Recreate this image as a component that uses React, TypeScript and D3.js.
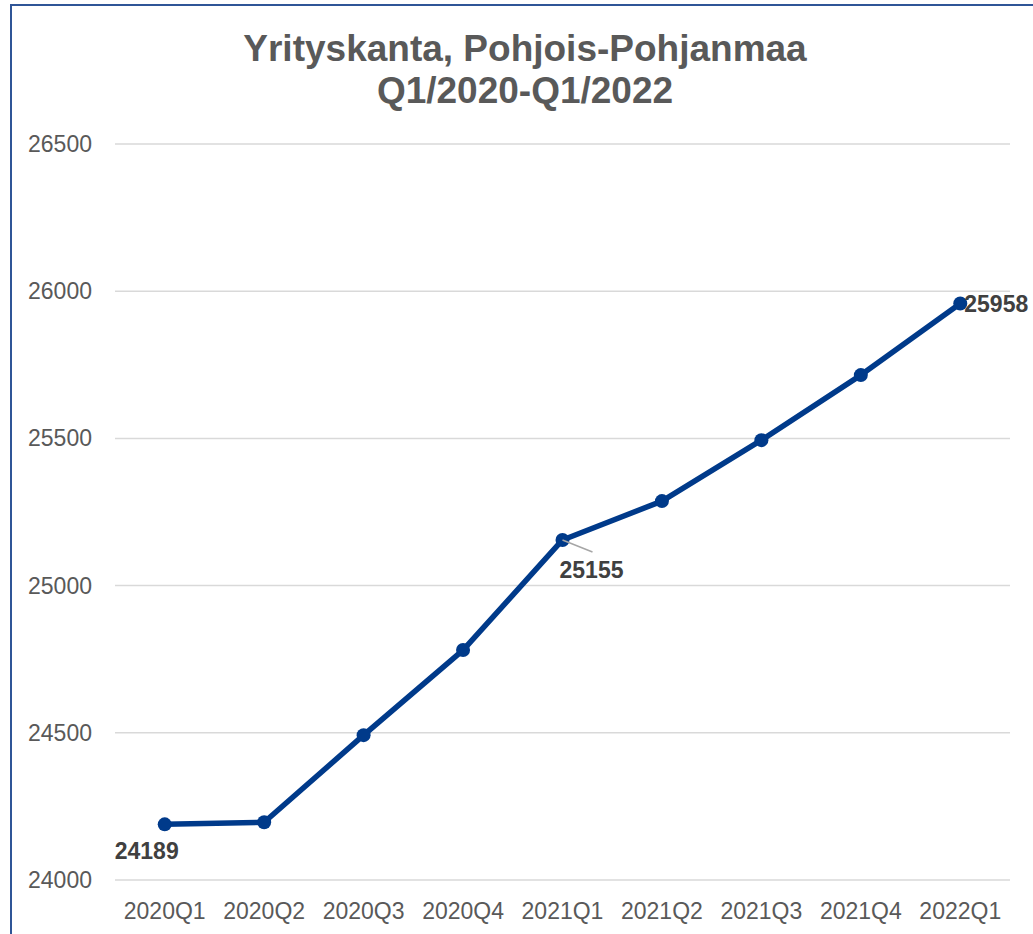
import React from "react";
import * as d3 from "d3";

const categories = ["2020Q1", "2020Q2", "2020Q3", "2020Q4", "2021Q1", "2021Q2", "2021Q3", "2021Q4", "2022Q1"];
const values = [24189, 24196, 24492, 24781, 25155, 25287, 25494, 25715, 25958];
const yTicks = [24000, 24500, 25000, 25500, 26000, 26500];
const titleLines = ["Yrityskanta, Pohjois-Pohjanmaa", "Q1/2020-Q1/2022"];
const labelled = [0, 4, 8];

const W = 1033, H = 934;
const plot = { left: 115, right: 1010, top: 144, bottom: 880 };

export default function App() {
  const x = d3.scaleBand<string>().domain(categories).range([plot.left, plot.right]);
  const y = d3.scaleLinear().domain([24000, 26500]).range([plot.bottom, plot.top]);
  const cx = (i: number) => (x(categories[i]) as number) + x.bandwidth() / 2;
  const line = d3.line<number>().x((_, i) => cx(i)).y((d) => y(d));
  const font = "'Liberation Sans', Arial, sans-serif";

  return (
    <svg width={W} height={H} style={{ position: "absolute", left: 0, top: 0, display: "block" }} fontFamily={font}>
      <rect x={0} y={0} width={W} height={H} fill="#fff" />
      <rect x={11} y={5} width={W + 20} height={H + 20} fill="none" stroke="#2F5597" strokeWidth={2} />
      {titleLines.map((t, i) => (
        <text key={t} x={525} y={61 + i * 42} textAnchor="middle" fontSize={37} fontWeight="bold" fill="#595959">{t}</text>
      ))}
      {yTicks.map((t) => (
        <g key={t}>
          <line x1={plot.left} x2={plot.right} y1={y(t)} y2={y(t)} stroke="#d9d9d9" strokeWidth={1.5} />
          <text x={92} y={y(t) + 8} textAnchor="end" fontSize={23} fill="#595959">{t}</text>
        </g>
      ))}
      {categories.map((c, i) => (
        <text key={c} x={cx(i)} y={919} textAnchor="middle" fontSize={23} fill="#595959">{c}</text>
      ))}
      <path d={line(values) || ""} fill="none" stroke="#003A8A" strokeWidth={5.5} strokeLinejoin="round" />
      {values.map((v, i) => (
        <circle key={i} cx={cx(i)} cy={y(v)} r={7} fill="#003A8A" />
      ))}
      {/* leader line for 25155 */}
      <line x1={cx(4)} y1={y(values[4])} x2={cx(4) + 30} y2={y(values[4]) + 12} stroke="#a6a6a6" strokeWidth={1.5} />
      {labelled.map((i) => {
        const px = cx(i), py = y(values[i]);
        let lx = px, ly = py, anchor: "start" | "middle" | "end" = "middle";
        if (i === 0) { lx = px - 18; ly = py + 35; }
        else if (i === 4) { lx = px + 29; ly = py + 38; }
        else { lx = px + 4; ly = py + 8; anchor = "start"; }
        return (
          <text key={i} x={lx} y={ly} textAnchor={anchor} fontSize={23} fontWeight="bold" fill="#404040">{values[i]}</text>
        );
      })}
    </svg>
  );
}
